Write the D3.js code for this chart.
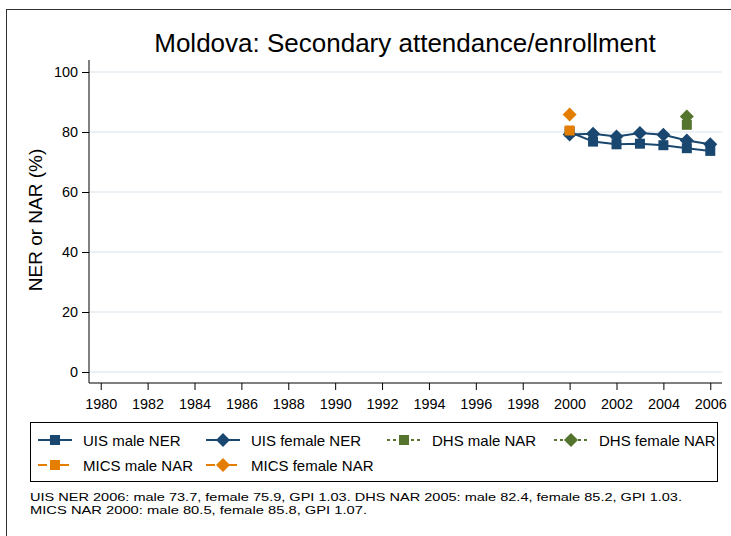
<!DOCTYPE html>
<html><head><meta charset="utf-8">
<script src="https://cdn.jsdelivr.net/npm/d3@7"></script>
<style>body{margin:0;background:#fff}svg{display:block;font-family:"Liberation Sans",Arial,sans-serif}</style>
</head><body>
<svg id="c" width="731" height="536"></svg>
<script>
const title = "Moldova: Secondary attendance/enrollment";
const yLabel = "NER or NAR (%)";
const xTicks = [1980,1982,1984,1986,1988,1990,1992,1994,1996,1998,2000,2002,2004,2006];
const yTicks = [0,20,40,60,80,100];
const uisYears = [2000,2001,2002,2003,2004,2005,2006];
const uisMale = [80.0,76.8,75.9,76.1,75.6,74.6,73.7];
const uisFemale = [79.2,79.4,78.5,79.7,79.1,77.2,75.9];
const dhsYears = [2005];
const dhsMale = [82.4];
const dhsFemale = [85.2];
const micsYears = [2000];
const micsMale = [80.5];
const micsFemale = [85.8];
const notes = ["UIS NER 2006: male 73.7, female 75.9, GPI 1.03. DHS NAR 2005: male 82.4, female 85.2, GPI 1.03.",
               "MICS NAR 2000: male 80.5, female 85.8, GPI 1.07."];

const navy="#1a476f", green="#55752f", orange="#e37e00";
const series = [
  {name:"UIS male NER", years:uisYears, vals:uisMale, color:navy, shape:"square", dash:null},
  {name:"UIS female NER", years:uisYears, vals:uisFemale, color:navy, shape:"diamond", dash:null},
  {name:"DHS male NAR", years:dhsYears, vals:dhsMale, color:green, shape:"square", dash:"3,3"},
  {name:"DHS female NAR", years:dhsYears, vals:dhsFemale, color:green, shape:"diamond", dash:"3,3"},
  {name:"MICS male NAR", years:micsYears, vals:micsMale, color:orange, shape:"square", dash:"9,6,1,6"},
  {name:"MICS female NAR", years:micsYears, vals:micsFemale, color:orange, shape:"diamond", dash:"9,6,1,6"}
];

const svg = d3.select("#c");
svg.append("rect").attr("x",6.5).attr("y",9.5).attr("width",740).attr("height",540)
  .attr("fill","#fff").attr("stroke","#333").attr("stroke-width",1);

const x = d3.scaleLinear().domain([1979.5,2006.5]).range([89,722]);
const y = d3.scaleLinear().domain([0,100]).range([372,72]);
const yTop = 60, yBot = 383;

// gridlines
svg.append("g").selectAll("line").data(yTicks).join("line")
  .attr("x1",89).attr("x2",722).attr("y1",d=>y(d)).attr("y2",d=>y(d))
  .attr("stroke","#e5edf1").attr("stroke-width",1.5);

// axes
const gx = svg.append("g").attr("transform",`translate(0,${yBot})`)
  .call(d3.axisBottom(x).tickValues(xTicks).tickFormat(d3.format("d")).tickSizeOuter(0).tickSize(7).tickPadding(9));
gx.select(".domain").attr("d",`M89,0H722`);
const gy = svg.append("g").attr("transform",`translate(89,0)`)
  .call(d3.axisLeft(y).tickValues(yTicks).tickSizeOuter(0).tickSize(7).tickPadding(4));
gy.select(".domain").attr("d",`M0,${yTop}V${yBot}`);
[gx,gy].forEach(g=>{
  g.selectAll("text").attr("font-size",14.4).attr("fill","#000").attr("font-family","Liberation Sans, Arial, sans-serif");
  g.selectAll("line").attr("stroke","#000");
  g.select(".domain").attr("stroke","#000");
});

function marker(g, shape, cx, cy, color, s){
  if(shape==="square"){
    g.append("rect").attr("x",cx-s).attr("y",cy-s).attr("width",2*s).attr("height",2*s).attr("fill",color);
  } else {
    const r = s*1.4;
    g.append("path").attr("d",`M${cx},${cy-r}L${cx+r},${cy}L${cx},${cy+r}L${cx-r},${cy}Z`).attr("fill",color);
  }
}

const plot = svg.append("g");
series.forEach(s=>{
  const pts = s.years.map((yr,i)=>[x(yr),y(s.vals[i])]);
  if(pts.length>1){
    plot.append("path").attr("d",d3.line()(pts)).attr("fill","none")
      .attr("stroke",s.color).attr("stroke-width",2).attr("stroke-dasharray",s.dash);
  }
  pts.forEach(p=>marker(plot,s.shape,p[0],p[1],s.color,5));
});

// title
svg.append("text").attr("x",405).attr("y",52).attr("text-anchor","middle")
  .attr("font-size",26).attr("fill","#000").text(title);
// y label
svg.append("text").attr("transform","translate(42,220) rotate(-90)").attr("text-anchor","middle")
  .attr("font-size",19).attr("fill","#000").text(yLabel);

// legend
const lg = svg.append("g");
lg.append("rect").attr("x",30.5).attr("y",422.5).attr("width",687).attr("height",59)
  .attr("fill","#fff").attr("stroke","#000").attr("stroke-width",1);
const legPos = [[38,440],[206,440],[387,440],[554,440],[38,465],[206,465]];
series.forEach((s,i)=>{
  const [lx,ly] = legPos[i];
  lg.append("line").attr("x1",lx).attr("x2",lx+34).attr("y1",ly).attr("y2",ly)
    .attr("stroke",s.color).attr("stroke-width",2).attr("stroke-dasharray",s.dash);
  marker(lg,s.shape,lx+17,ly,s.color,5);
  lg.append("text").attr("x",lx+45).attr("y",ly+5.5).attr("font-size",15).attr("fill","#000").text(s.name);
});

// notes
const noteLen = [652, 337];
notes.forEach((t,i)=>{
  svg.append("text").attr("x",30).attr("y",501+i*13).attr("font-size",11.8)
    .attr("textLength",noteLen[i]).attr("lengthAdjust","spacingAndGlyphs")
    .attr("fill","#000").text(t);
});
</script>
</body></html>
